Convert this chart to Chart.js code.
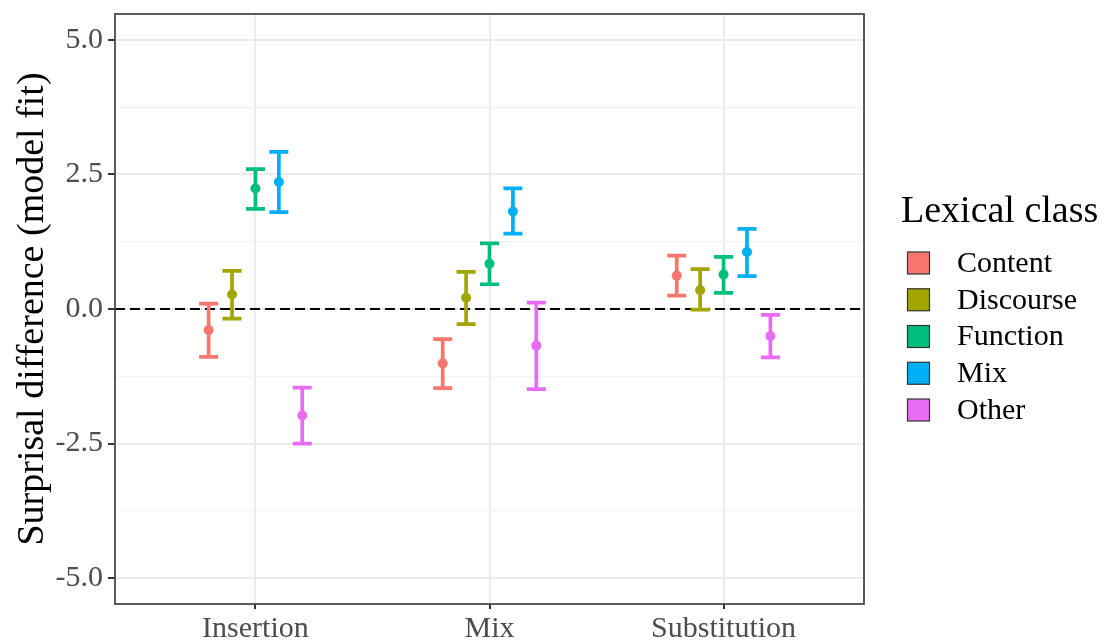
<!DOCTYPE html>
<html>
<head>
<meta charset="utf-8">
<script src="https://cdn.jsdelivr.net/npm/chart.js@4"></script>
<style>
  html, body { margin: 0; padding: 0; background: #fff; }
  canvas { display: block; }
</style>
</head>
<body>
<canvas id="fitChart" width="1104" height="641"></canvas>
<script>
// conditions on the x axis, lexical classes as dodged series
const conditions = ['Insertion', 'Mix', 'Substitution'];
const classes = ['Content', 'Discourse', 'Function', 'Mix', 'Other'];
const classColors = ['#F8766D', '#A3A500', '#00BF7D', '#00B0F6', '#E76BF3'];
const dodge = [-0.2, -0.1, 0, 0.1, 0.2];

// model fit estimates, one array per class (Insertion, Mix, Substitution)
const contentFit = [-0.39, -1.01, 0.62];
const discourseFit = [0.27, 0.21, 0.35];
const functionFit = [2.24, 0.84, 0.64];
const mixFit = [2.36, 1.81, 1.06];
const otherFit = [-1.98, -0.68, -0.50];

// interval bounds
const contentLow = [-0.89, -1.47, 0.25];
const contentHigh = [0.10, -0.56, 0.99];
const discourseLow = [-0.18, -0.28, -0.01];
const discourseHigh = [0.71, 0.69, 0.74];
const functionLow = [1.86, 0.46, 0.30];
const functionHigh = [2.60, 1.22, 0.97];
const mixLow = [1.80, 1.40, 0.61];
const mixHigh = [2.92, 2.24, 1.49];
const otherLow = [-2.50, -1.49, -0.90];
const otherHigh = [-1.46, 0.12, -0.11];

const yTicks = [-5, -3.75, -2.5, -1.25, 0, 1.25, 2.5, 3.75, 5];
const yMajor = [-5, -2.5, 0, 2.5, 5];

const fits = [contentFit, discourseFit, functionFit, mixFit, otherFit];
const lows = [contentLow, discourseLow, functionLow, mixLow, otherLow];
const highs = [contentHigh, discourseHigh, functionHigh, mixHigh, otherHigh];

const serif = 'Liberation Serif';
const isMajor = v => yMajor.includes(v);

const datasets = classes.map((name, k) => ({
    type: 'scatter',
    label: name,
    data: conditions.map((c, i) => ({ x: i + 1 + dodge[k], y: fits[k][i] })),
    backgroundColor: classColors[k],
    borderColor: classColors[k],
    pointRadius: 5,
    pointBorderWidth: 0,
    order: 0
}));

// dashed reference line at zero
datasets.push({
    type: 'line',
    label: 'zero',
    data: [{ x: 0.4, y: 0 }, { x: 3.6, y: 0 }],
    borderColor: '#000',
    borderWidth: 2,
    borderDash: [10, 5],
    pointRadius: 0,
    order: 10
});

const errorBars = {
    id: 'errorBars',
    afterDatasetDraw(chart, args) {
        if (args.index !== classes.length) return;
        const { ctx, scales: { x, y } } = chart;
        ctx.save();
        ctx.lineWidth = 3.7;
        ctx.lineCap = 'butt';
        classes.forEach((name, k) => {
            ctx.strokeStyle = classColors[k];
            conditions.forEach((c, i) => {
                const px = x.getPixelForValue(i + 1 + dodge[k]);
                const top = y.getPixelForValue(highs[k][i]);
                const bot = y.getPixelForValue(lows[k][i]);
                ctx.beginPath();
                ctx.moveTo(px, top); ctx.lineTo(px, bot);
                ctx.moveTo(px - 9.5, top); ctx.lineTo(px + 9.5, top);
                ctx.moveTo(px - 9.5, bot); ctx.lineTo(px + 9.5, bot);
                ctx.stroke();
            });
        });
        ctx.restore();
    }
};

const panelAndLegend = {
    id: 'panelAndLegend',
    afterDraw(chart) {
        const { ctx, chartArea: a } = chart;
        ctx.save();
        ctx.strokeStyle = '#4a4a4a';
        ctx.lineWidth = 1.8;
        ctx.strokeRect(a.left, a.top, a.right - a.left, a.bottom - a.top);

        ctx.fillStyle = '#000';
        ctx.textBaseline = 'alphabetic';
        ctx.textAlign = 'left';
        ctx.font = `38px "${serif}"`;
        ctx.fillText('Lexical class', 901, 222);

        ctx.font = `30px "${serif}"`;
        ctx.textBaseline = 'middle';
        classes.forEach((name, k) => {
            const cy = 263 + k * 36.75;
            ctx.fillStyle = classColors[k];
            ctx.fillRect(907.5, cy - 11, 22, 22);
            ctx.strokeStyle = '#333';
            ctx.lineWidth = 1.2;
            ctx.strokeRect(907.5, cy - 11, 22, 22);
            ctx.fillStyle = '#000';
            ctx.fillText(name, 957, cy + 1);
        });
        ctx.restore();
    }
};

new Chart(document.getElementById('fitChart'), {
    data: { datasets },
    options: {
        responsive: false,
        animation: false,
        layout: { padding: { left: 0, top: 14, right: 240, bottom: 0 } },
        plugins: { legend: { display: false }, tooltip: { enabled: false } },
        scales: {
            x: {
                type: 'linear',
                min: 0.4,
                max: 3.6,
                afterBuildTicks: s => { s.ticks = conditions.map((c, i) => ({ value: i + 1 })); },
                afterFit: s => { s.height = 37; s.paddingLeft = 0; s.paddingRight = 0; },
                ticks: {
                    callback: v => conditions[v - 1],
                    font: { family: serif, size: 30 },
                    color: '#4d4d4d',
                    padding: 2,
                    maxRotation: 0
                },
                grid: { color: '#ebebeb', lineWidth: 2, tickLength: 5, tickColor: '#333' },
                border: { display: false }
            },
            y: {
                type: 'linear',
                min: -5.48,
                max: 5.48,
                afterBuildTicks: s => { s.ticks = yTicks.map(v => ({ value: v })); },
                afterFit: s => { s.width = 115; s.paddingTop = 0; s.paddingBottom = 0; },
                ticks: {
                    callback: v => isMajor(v) ? v.toFixed(1) : '',
                    font: { family: serif, size: 30 },
                    color: '#4d4d4d',
                    padding: 5
                },
                grid: {
                    color: c => isMajor(c.tick.value) ? '#ebebeb' : '#f2f2f2',
                    lineWidth: c => isMajor(c.tick.value) ? 2 : 1.2,
                    tickLength: 7,
                    tickColor: c => isMajor(c.tick.value) ? '#333' : 'rgba(0,0,0,0)'
                },
                border: { display: false },
                title: {
                    display: true,
                    text: 'Surprisal difference (model fit)',
                    font: { family: serif, size: 38 },
                    color: '#000',
                    padding: { top: 10, bottom: 0 }
                }
            }
        }
    },
    plugins: [errorBars, panelAndLegend]
});
</script>
</body>
</html>
